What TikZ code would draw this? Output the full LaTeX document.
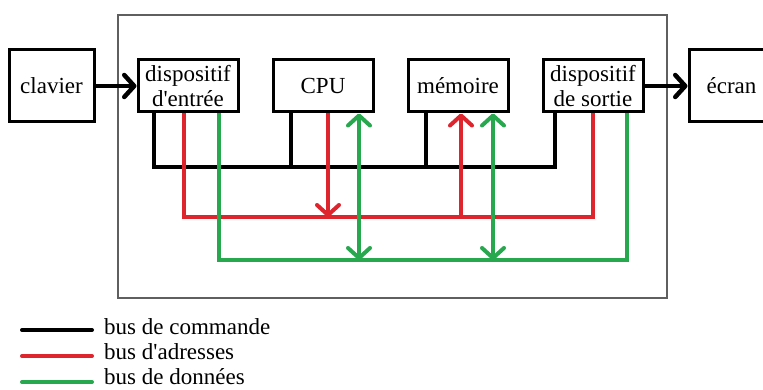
\documentclass[tikz,border=0pt]{standalone}
\usepackage{fontspec}
\setmainfont{Liberation Serif}
\usepackage{tikz}
\usetikzlibrary{arrows.meta, positioning}
\definecolor{busred}{RGB}{222, 36, 44}
\definecolor{busgreen}{RGB}{40, 168, 78}
\definecolor{framegray}{RGB}{95, 95, 95}

\begin{document}
\begin{tikzpicture}[
  x=1pt, y=-1pt,
  node distance=32pt,
  unit/.style={rectangle, draw=black, line width=3pt, minimum width=100pt,
               minimum height=52pt, inner sep=1pt, align=center,
               font=\fontsize{23}{25}\selectfont},
  periph/.style={unit, minimum width=85pt, minimum height=72pt},
  barb/.style={-{Straight Barb[length=10pt, width=22pt, round]}},
  bothbarb/.style={{Straight Barb[length=10pt, width=22pt, round]}-{Straight Barb[length=10pt, width=22pt, round]}},
  io/.style={line width=4.5pt, barb},
  cmd/.style={line width=4pt, draw=black},
  adr/.style={line width=4pt, draw=busred},
  dat/.style={line width=4pt, draw=busgreen},
  legend/.style={anchor=base west, inner sep=0pt, font=\fontsize{23}{25}\selectfont}
]
\useasboundingbox (0,0) rectangle (763,390);
\draw[framegray, line width=1.2pt] (118,15) rectangle (667,298);

\node[unit] (entree) at (188,86) {dispositif\\d\textquotesingle entrée};
\node[unit, right=of entree] (cpu) {CPU};
\node[unit, right=of cpu] (mem) {mémoire};
\node[unit, right=of mem] (sortie) {dispositif\\de sortie};
\node[periph, left=41pt of entree] (clavier) {clavier};
\node[periph, right=43pt of sortie] (ecran) {écran};

\draw[io] (clavier) -- (entree);
\draw[io] (sortie) -- (ecran);

% bus levels
\coordinate (cmdbus) at (0,167);
\coordinate (adrbus) at (0,217);
\coordinate (datbus) at (0,260);

% taps under the boxes
\coordinate (inC) at ([xshift=-34pt]entree.south);
\coordinate (inA) at ([xshift=-4pt]entree.south);
\coordinate (inD) at ([xshift=31pt]entree.south);
\coordinate (cpuC) at ([xshift=-32pt]cpu.south);
\coordinate (cpuA) at ([xshift=5pt]cpu.south);
\coordinate (cpuD) at ([xshift=36pt]cpu.south);
\coordinate (memC) at ([xshift=-32pt]mem.south);
\coordinate (memA) at ([xshift=3pt]mem.south);
\coordinate (memD) at ([xshift=35pt]mem.south);
\coordinate (outC) at ([xshift=-38pt]sortie.south);
\coordinate (outA) at ([xshift=0pt]sortie.south);
\coordinate (outD) at ([xshift=34pt]sortie.south);

% bus de commande
\draw[cmd] (inC) |- (cmdbus -| outC) -- (outC);
\draw[cmd] (cpuC) -- (cpuC |- cmdbus);
\draw[cmd] (memC) -- (memC |- cmdbus);

% bus d'adresses
\draw[adr] (inA) |- (adrbus -| outA) -- (outA);
\draw[adr, barb] (cpuA) -- (cpuA |- adrbus);
\draw[adr, barb] (memA |- adrbus) -- (memA);

% bus de donnees
\draw[dat] (inD) |- (datbus -| outD) -- (outD);
\draw[dat, bothbarb] (cpuD) -- (cpuD |- datbus);
\draw[dat, bothbarb] (memD) -- (memD |- datbus);

% legend
\node[legend] (lcmd) at (104,334) {bus de commande};
\node[legend] (ladr) at (104,359) {bus d\textquotesingle adresses};
\node[legend] (ldat) at (104,384) {bus de données};
\draw[cmd, line cap=round] ([shift={(-12pt,4pt)}]lcmd.base west) -- ++(-70,0);
\draw[adr, line cap=round] ([shift={(-12pt,3pt)}]ladr.base west) -- ++(-70,0);
\draw[dat, line cap=round] ([shift={(-12pt,2pt)}]ldat.base west) -- ++(-70,0);
\end{tikzpicture}
\end{document}
